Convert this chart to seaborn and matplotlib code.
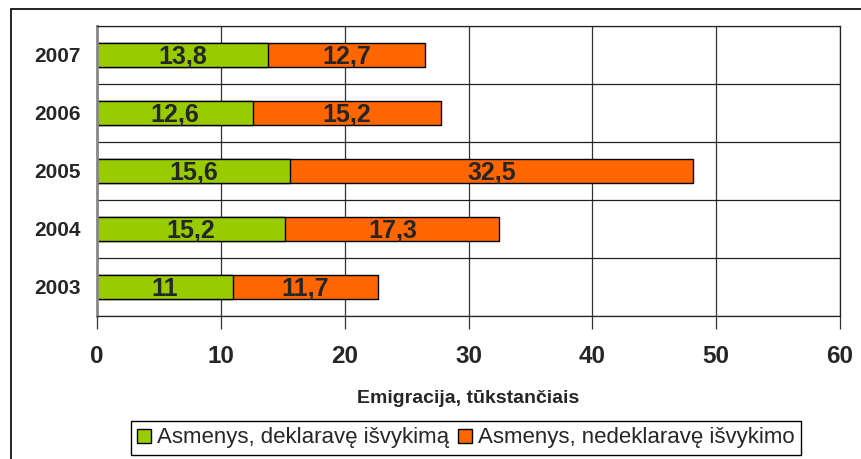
#!/usr/bin/env python3

import pandas as pd
import matplotlib.pyplot as plt
import seaborn as sns
from matplotlib.patches import Rectangle, Patch
from matplotlib.ticker import MultipleLocator

# -----------------------------------------------------------------------------
# Data
# -----------------------------------------------------------------------------

years = ["2007", "2006", "2005", "2004", "2003"]
declared = [13.8, 12.6, 15.6, 15.2, 11.0]
undeclared = [12.7, 15.2, 32.5, 17.3, 11.7]
series_names = ["Asmenys, deklaravę išvykimą", "Asmenys, nedeklaravę išvykimo"]
x_label = "Emigracija, tūkstančiais"

GREEN = "#99CC00"
ORANGE = "#FF6600"

df = pd.DataFrame({"year": years, "declared": declared, "undeclared": undeclared})
df["total"] = df["declared"] + df["undeclared"]

sns.set_theme(style="white")
plt.rcParams["font.family"] = ["Liberation Sans", "DejaVu Sans"]

# -----------------------------------------------------------------------------
# Plot
# -----------------------------------------------------------------------------

fig = plt.figure(figsize=(8.61, 4.59), dpi=100)
ax = fig.add_axes([97 / 861, 1 - 316 / 459, (840 - 97) / 861, (316 - 26) / 459])

# outer chart frame (cut at the right and bottom)
fig.patches.append(Rectangle((11 / 861, -0.05), 1.2, 1 - 9 / 459 + 0.05,
                             transform=fig.transFigure, fill=False,
                             edgecolor="black", linewidth=1.2))

# stacked bars: total in orange, declared part on top in green
sns.barplot(data=df, y="year", x="total", order=years, color=ORANGE,
            saturation=1, width=0.42, edgecolor="black", linewidth=1.0, ax=ax)
sns.barplot(data=df, y="year", x="declared", order=years, color=GREEN,
            saturation=1, width=0.42, edgecolor="black", linewidth=1.0, ax=ax)

# segment labels
for i, row in df.iterrows():
    ax.text(row["declared"] / 2, i + 0.03, f"{row['declared']:g}".replace(".", ","),
            ha="center", va="center", fontsize=18, fontweight="bold")
    ax.text(row["declared"] + row["undeclared"] / 2, i + 0.03,
            f"{row['undeclared']:g}".replace(".", ","),
            ha="center", va="center", fontsize=18, fontweight="bold")

ax.set_xlim(0, 60)
ax.set_ylim(4.5, -0.5)
ax.xaxis.set_major_locator(MultipleLocator(10))
ax.yaxis.set_minor_locator(MultipleLocator(1, offset=0.5))

ax.grid(True, axis="x", which="major", color="#333333", linewidth=0.9)
ax.grid(True, axis="y", which="minor", color="#222222", linewidth=0.9)
ax.set_axisbelow(True)

for side in ["top", "right", "bottom"]:
    ax.spines[side].set_visible(True)
    ax.spines[side].set_color("#222222")
    ax.spines[side].set_linewidth(0.9)
ax.spines["left"].set_color("#888888")
ax.spines["left"].set_linewidth(2)

ax.tick_params(axis="x", which="major", direction="out", length=9, width=0.9,
               color="#333333", bottom=True, pad=12)
ax.tick_params(axis="y", which="both", length=0, pad=12)

for lbl in ax.get_xticklabels():
    lbl.set_fontweight("bold")
    lbl.set_fontsize(17.5)
for lbl in ax.get_yticklabels():
    lbl.set_fontweight("bold")
    lbl.set_fontsize(15)

ax.set_ylabel("")
ax.set_xlabel(x_label, fontsize=14, fontweight="bold", labelpad=16)

handles = [Patch(facecolor=GREEN, edgecolor="black", linewidth=1.0),
           Patch(facecolor=ORANGE, edgecolor="black", linewidth=1.0)]
fig.legend(handles, series_names, loc="center", bbox_to_anchor=(466 / 861, 1 - 438 / 459),
           ncol=2, frameon=True, fancybox=False, edgecolor="black", framealpha=1,
           prop={"size": 16}, handlelength=0.6, handleheight=0.6, handletextpad=0.3,
           columnspacing=0.4, borderpad=0.3, borderaxespad=0)

fig.savefig("out.png", dpi=100)
